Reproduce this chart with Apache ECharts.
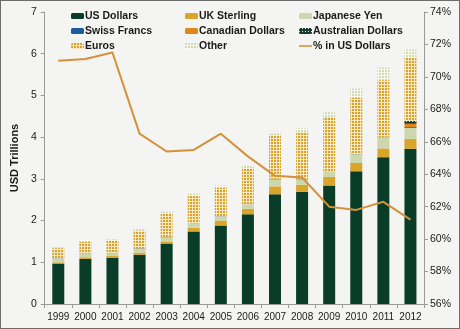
<!DOCTYPE html>
<html><head><meta charset="utf-8">
<script src="https://cdn.jsdelivr.net/npm/echarts@6/dist/echarts.min.js"></script>
<style>
html,body{margin:0;padding:0;background:#fff;}
#c{width:460px;height:329px;box-sizing:border-box;border:1px solid #6d6d6d;background:#f4f4f2;}
</style></head><body>
<div id="c"></div>
<script>
const years = ['1999','2000','2001','2002','2003','2004','2005','2006','2007','2008','2009','2010','2011','2012'];
const usDollars   = [0.97,1.08,1.11,1.18,1.45,1.74,1.88,2.15,2.63,2.69,2.84,3.18,3.52,3.72];
const ukSterling  = [0.03,0.04,0.04,0.05,0.05,0.09,0.12,0.13,0.19,0.17,0.21,0.20,0.21,0.24];
const japaneseYen = [0.08,0.09,0.07,0.09,0.10,0.11,0.10,0.10,0.17,0.13,0.12,0.21,0.27,0.26];
const swissFrancs = [0.01,0.005,0.005,0.01,0.005,0.005,0.005,0.005,0.01,0.01,0.005,0.005,0.005,0.02];
const canadianDollars   = [0,0,0,0,0,0,0,0,0,0,0,0,0,0.08];
const australianDollars = [0,0,0,0,0,0,0,0,0,0,0,0,0,0.07];
const euros = [0.25,0.28,0.30,0.43,0.56,0.65,0.69,0.87,1.05,1.12,1.31,1.35,1.36,1.52];
const other = [0.03,0.03,0.03,0.04,0.05,0.05,0.05,0.06,0.08,0.09,0.11,0.22,0.31,0.19];
const pctUS = [71.0,71.1,71.5,66.5,65.4,65.5,66.5,65.1,63.9,63.8,62.0,61.8,62.3,61.2];

function pattern(bg, fg, size, dot) {
  const cv = document.createElement('canvas');
  cv.width = size; cv.height = size;
  const g = cv.getContext('2d');
  g.fillStyle = bg; g.fillRect(0,0,size,size);
  g.fillStyle = fg; g.fillRect(0,0,dot,dot);
  return {image: cv, repeat: 'repeat'};
}
const euroPat = pattern('#f6e8bc', '#d6a32e', 3, 2);
const otherPat = pattern('#fbfbf6', '#d0d9b4', 3, 2);
const audPat = pattern('#1c3a30', '#e8e8d8', 3, 1);

const FONT = '"Liberation Sans", Arial, sans-serif';
const chart = echarts.init(document.getElementById('c'));
function bar(name, data, color) {
  return {name, type:'bar', stack:'t', data, barWidth:12, itemStyle:{color}, emphasis:{disabled:true}};
}
const legBase = {orient:'vertical', itemWidth:13, itemHeight:6, itemGap:1, padding:0,
  textStyle:{fontFamily:FONT, fontSize:10.5, lineHeight:14, fontWeight:'bold', color:'#1a1a1a', padding:[0,0,0,-4]}};
chart.setOption({
  animation:false,
  grid:{left:37, right:35, top:11, bottom:24, containLabel:false},
  legend:[
    Object.assign({left:70, top:8, data:['US Dollars','Swiss Francs','Euros']}, legBase),
    Object.assign({left:184, top:8, data:['UK Sterling','Canadian Dollars','Other']}, legBase),
    Object.assign({left:298, top:8, data:['Japanese Yen','Australian Dollars',{name:'% in US Dollars', icon:'path://M0,0 L13,0 L13,1.6 L0,1.6 Z'}]}, legBase)
  ],
  xAxis:{type:'category', data:years,
    axisLine:{lineStyle:{color:'#9a9a9a'}},
    axisTick:{show:true, length:4, lineStyle:{color:'#9a9a9a'}},
    axisLabel:{fontFamily:FONT, color:'#1a1a1a', fontSize:10, margin:8, interval:0}},
  yAxis:[
    {type:'value', min:0, max:7, interval:1, name:'USD Trillions', nameLocation:'middle', nameGap:21,
     nameTextStyle:{fontFamily:FONT, color:'#1a1a1a', fontSize:11, fontWeight:'bold'},
     axisLine:{show:true, lineStyle:{color:'#9a9a9a'}},
     axisTick:{show:true, length:4, lineStyle:{color:'#9a9a9a'}},
     splitLine:{show:false},
     axisLabel:{fontFamily:FONT, color:'#1a1a1a', fontSize:10.5, margin:8}},
    {type:'value', min:56, max:74, interval:2, position:'right',
     axisLine:{show:true, lineStyle:{color:'#9a9a9a'}},
     axisTick:{show:true, length:4, lineStyle:{color:'#9a9a9a'}},
     splitLine:{show:false},
     axisLabel:{fontFamily:FONT, color:'#1a1a1a', fontSize:10.5, margin:6, formatter:'{value}%'}}
  ],
  series:[
    bar('US Dollars', usDollars, '#093d28'),
    bar('UK Sterling', ukSterling, '#d9a52a'),
    bar('Japanese Yen', japaneseYen, '#cdd7ad'),
    bar('Swiss Francs', swissFrancs, '#1d5c9a'),
    bar('Canadian Dollars', canadianDollars, '#e0861c'),
    bar('Australian Dollars', australianDollars, audPat),
    bar('Euros', euros, euroPat),
    bar('Other', other, otherPat),
    {name:'% in US Dollars', type:'line', yAxisIndex:1, data:pctUS, symbol:'none',
     lineStyle:{color:'#d4913a', width:2}, itemStyle:{color:'#d4913a'}, z:5}
  ]
});
</script>
</body></html>
